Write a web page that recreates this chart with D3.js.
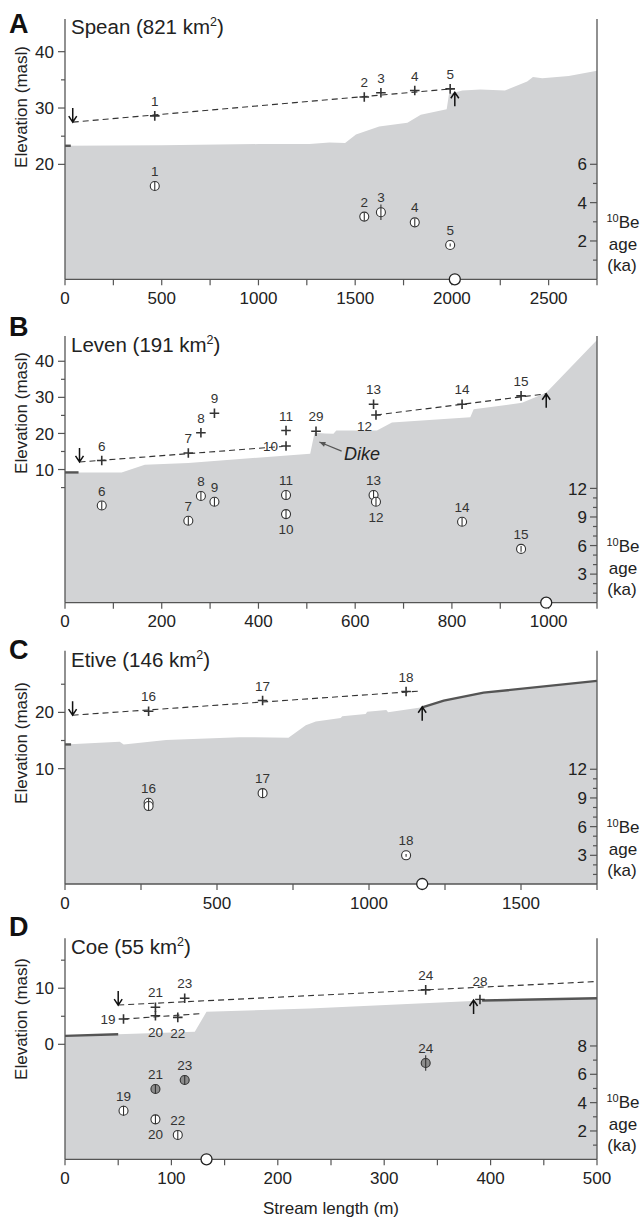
<!DOCTYPE html>
<html><head><meta charset="utf-8">
<script src="https://cdn.jsdelivr.net/npm/d3@7"></script>
<style>body{margin:0;background:#fff} svg{display:block} text{font-family:"Liberation Sans",Arial,Helvetica,sans-serif}</style>
</head><body><svg id="c" width="641" height="1218"></svg>
<script>
// ---------------- DATA ----------------
const panelLetters = ["A","B","C","D"];
const panelRivers = ["Spean","Leven","Etive","Coe"];
const panelAreas = [821,191,146,55];
const xDomains = [[0,2750],[0,1100],[0,1750],[0,500]];
const elevDomains = [[-0.4,45.8],[-26.9,47.0],[-10.5,30.96],[-20.5,18.9]];
const ageDomains = [[0,13.58],[0,28.0],[0,24.4],[0,15.6]];
const xTickSteps = [250,100,250,50];
const xLabelSteps = [500,200,500,100];
const elevTickLabels = [[20,30,40],[10,20,30,40],[10,20],[0,10]];
const elevTickMinor = [[25,35],[5,15,25,35],[15,25],[5,15]];
const ageTickLabels = [[2,4,6],[3,6,9,12],[3,6,9,12],[2,4,6,8]];
const ageTickMinor = [[1,3,5],[1,2,4,5,7,8,10,11],[1,2,4,5,7,8,10,11],[1,3,5,7]];

// channel profiles [stream length m, elevation masl]
const profileSpean = [[0,23.3],[500,23.4],[1000,23.6],[1264,23.6],[1367,23.9],[1448,23.8],[1504,25.3],[1624,26.7],[1770,27.4],[1839,28.8],[1973,29.8],[1985,32.5],[2054,33.1],[2148,33.3],[2274,33.1],[2389,34.7],[2419,35.5],[2467,35.3],[2604,35.7],[2750,36.6]];
const profileLeven = [[0,9.2],[117,9.2],[165,11.3],[255,11.8],[507,14.4],[516,20.2],[538,20.0],[555,19.9],[561,20.8],[645,20.8],[676,23.0],[838,24.5],[845,26.7],[945,28.5],[995,31.3],[1100,45.9]];
const profileEtive = [[0,14.3],[180,14.8],[193,14.3],[333,15.1],[574,15.6],[735,15.5],[792,17.7],[825,18.4],[907,19.0],[912,19.3],[989,19.7],[994,20.1],[1057,20.4],[1063,20.0],[1175,20.9],[1246,22.1],[1377,23.5],[1750,25.6]];
const profileCoe = [[0,1.5],[50,1.8],[122,2.25],[133,5.8],[230,6.4],[383,7.7],[394,7.7],[500,8.2]];

// dark (surveyed) profile segments
const darkSpean = [[[0,23.3],[30,23.3]]];
const darkLeven = [[[0,9.2],[28,9.2]]];
const darkEtive = [[[0,14.3],[20,14.3]],[[1175,20.9],[1246,22.1],[1377,23.5],[1750,25.6]]];
const darkCoe = [[[0,1.5],[50,1.8]],[[392,7.8],[500,8.2]]];

// strath terrace surfaces (dashed)
const dashSpean = [[[40,27.5],[2000,33.4]]];
const dashLeven = [[[30,12.1],[450,16.4]],[[643,25.1],[995,31.0]]];
const dashEtive = [[[25,19.5],[1173,23.8]]];
const dashCoe = [[[50,7.0],[500,11.2]],[[55,4.5],[130,5.5]]];

// sample elevations (crosses): id, stream length, elevation, label position
const crossSpean = [["1",464,28.6,"above"],["2",1547,31.95,"above"],["3",1633,32.7,"above"],["4",1808,33.1,"above"],["5",1991,33.4,"above"]];
const crossLeven = [["6",76,12.5,"above"],["7",255,14.6,"above"],["8",281,20.2,"above"],["9",309,25.6,"above"],["10",457,16.5,"left"],["11",457,20.8,"above"],["29",519,20.6,"above"],["13",638,28.1,"above"],["12",643,25.1,"belowLeft"],["14",821,28.1,"above"],["15",943,30.4,"above"]];
const crossEtive = [["16",275,20.2,"above"],["17",650,22.1,"above"],["18",1122,23.7,"above"]];
const crossCoe = [["19",55,4.5,"left"],["21",85,6.6,"above"],["20",85,5.1,"below"],["22",106,4.8,"below"],["23",112.5,8.2,"above"],["24",339,9.7,"above"],["28",390,8.0,"above"]];

// 10Be ages (circles): id, stream length, age ka, uncertainty ka, label position, filled
const ageSpean = [["1",464,4.87,0.22,"above",0],["2",1547,3.27,0.22,"above",0],["3",1633,3.5,0.4,"above",0],["4",1808,2.97,0.2,"above",0],["5",1991,1.79,0.08,"above",0]];
const ageLeven = [["6",76,10.2,0.45,"above",0],["7",255,8.6,0.45,"above",0],["8",281,11.2,0.45,"above",0],["9",309,10.6,0.45,"above",0],["11",457,11.3,0.45,"above",0],["10",457,9.3,0.45,"below",0],["13",638,11.3,0.45,"above",0],["12",643,10.6,0.45,"below",0],["14",821,8.5,0.45,"above",0],["15",943,5.65,0.3,"above",0]];
const ageEtive = [["16",275,8.5,0.45,"above",0],["",275,8.15,0.45,"none",0],["17",650,9.5,0.45,"above",0],["18",1122,3.0,0.15,"above",0]];
const ageCoe = [["19",55,3.43,0.35,"above",0],["21",85,4.96,0.32,"above",1],["20",85,2.82,0.32,"below",0],["22",106,1.72,0.32,"above",0],["23",112.5,5.6,0.32,"above",1],["24",339,6.8,0.55,"above",1]];

// knickpoint positions (open circle on axis) and arrows
const knickX = [2015,995,1175,133];
const downArrows = [[40,27.5],[30,12.1],[25,19.5],[50,7.0]];
const upArrows = [[2015,32.8],[995,31.0],[1175,21.0],[384,7.9]];
const dikeArrow = [[572,15.1],[526,17.6]];
const dikeLabel = [577,12.6];

// ---------------- LAYOUT ----------------
const W = 641, xL = 65, xR = 597;
const tops = [19,336,650.7,938.3];
const bottoms = [279.3,602.7,884,1159.3];
const titleBase = [33.5,352,666.5,954];
const letterBase = [33,336,659,936];
const yLabelCenter = [107,413,743,1019];

const profiles = [profileSpean,profileLeven,profileEtive,profileCoe];
const darks = [darkSpean,darkLeven,darkEtive,darkCoe];
const dashes = [dashSpean,dashLeven,dashEtive,dashCoe];
const crosses = [crossSpean,crossLeven,crossEtive,crossCoe];
const ages = [ageSpean,ageLeven,ageEtive,ageCoe];

const svg = d3.select("#c");
const FS = 17, LFS = 13.5;
const axisCol = "#555", txt = "#222", gray = "#d2d3d5";

for (let p = 0; p < 4; p++) {
  const top = tops[p], bot = bottoms[p];
  const x = d3.scaleLinear().domain(xDomains[p]).range([xL, xR]);
  const ye = d3.scaleLinear().domain(elevDomains[p]).range([bot, top]);
  const ya = d3.scaleLinear().domain(ageDomains[p]).range([bot, top]);
  const g = svg.append("g");

  // profile fill
  g.append("path").datum(profiles[p])
    .attr("d", d3.area().x(d => x(d[0])).y0(bot).y1(d => ye(d[1])))
    .attr("fill", gray);
  const line = d3.line().x(d => x(d[0])).y(d => ye(d[1]));
  darks[p].forEach(seg => g.append("path").attr("d", line(seg)).attr("fill","none").attr("stroke","#555").attr("stroke-width",2.4));
  dashes[p].forEach(seg => g.append("path").attr("d", line(seg)).attr("fill","none").attr("stroke","#333").attr("stroke-width",1.1).attr("stroke-dasharray","6,4"));

  // axes
  g.append("line").attr("x1",xL).attr("x2",xL).attr("y1",top).attr("y2",bot).attr("stroke",axisCol).attr("stroke-width",1.3);
  g.append("line").attr("x1",xR).attr("x2",xR).attr("y1",top).attr("y2",bot).attr("stroke",axisCol).attr("stroke-width",1.3);
  g.append("line").attr("x1",xL).attr("x2",xR).attr("y1",bot).attr("y2",bot).attr("stroke",axisCol).attr("stroke-width",1.3);
  const xt = d3.range(xDomains[p][0], xDomains[p][1] + 1e-6, xTickSteps[p]);
  xt.forEach(v => {
    g.append("line").attr("x1",x(v)).attr("x2",x(v)).attr("y1",bot).attr("y2",bot+6).attr("stroke",axisCol).attr("stroke-width",1.2);
    if (Math.abs(v % xLabelSteps[p]) < 1e-6)
      g.append("text").attr("x",x(v)).attr("y",bot+24.5).attr("text-anchor","middle").attr("font-size",FS).attr("fill",txt).text(v);
  });
  elevTickLabels[p].forEach(v => {
    g.append("line").attr("x1",xL-7).attr("x2",xL).attr("y1",ye(v)).attr("y2",ye(v)).attr("stroke",axisCol).attr("stroke-width",1.2);
    g.append("text").attr("x",xL-11).attr("y",ye(v)).attr("dy","0.36em").attr("text-anchor","end").attr("font-size",FS).attr("fill",txt).text(v);
  });
  elevTickMinor[p].forEach(v => g.append("line").attr("x1",xL-4).attr("x2",xL).attr("y1",ye(v)).attr("y2",ye(v)).attr("stroke",axisCol).attr("stroke-width",1.2));
  ageTickLabels[p].forEach(v => {
    g.append("line").attr("x1",xR-7).attr("x2",xR).attr("y1",ya(v)).attr("y2",ya(v)).attr("stroke",axisCol).attr("stroke-width",1.2);
    g.append("text").attr("x",xR-10).attr("y",ya(v)).attr("dy","0.36em").attr("text-anchor","end").attr("font-size",FS).attr("fill",txt).text(v);
  });
  ageTickMinor[p].forEach(v => g.append("line").attr("x1",xR-4).attr("x2",xR).attr("y1",ya(v)).attr("y2",ya(v)).attr("stroke",axisCol).attr("stroke-width",1.2));

  // crosses
  crosses[p].forEach(([id, sx, z, pos]) => {
    const cx = x(sx), cy = ye(z);
    g.append("path").attr("d",`M${cx-4.8},${cy}h9.6M${cx},${cy-4.8}v9.6`).attr("stroke","#333").attr("stroke-width",1.6);
    let tx = cx, ty = cy - 10, anchor = "middle";
    if (pos === "left") { tx = cx - 8; ty = cy + 5; anchor = "end"; }
    if (pos === "below") { ty = cy + 21; }
    if (pos === "belowLeft") { tx = cx - 4; ty = cy + 16; anchor = "end"; }
    if (id === "28") ty = cy - 13;
    g.append("text").attr("x",tx).attr("y",ty).attr("text-anchor",anchor).attr("font-size",LFS).attr("fill","#333").text(id);
  });

  // age circles
  ages[p].forEach(([id, sx, a, e, pos, filled]) => {
    const cx = x(sx), cy = ya(a);
    g.append("circle").attr("cx",cx).attr("cy",cy).attr("r",4.5).attr("fill",filled ? "#8c8c8c" : "#fff").attr("stroke","#333").attr("stroke-width",1.1);
    g.append("line").attr("x1",cx).attr("x2",cx).attr("y1",ya(a-e)).attr("y2",ya(a+e)).attr("stroke","#333").attr("stroke-width",1.1);
    if (pos === "none") return;
    const ty = pos === "below" ? cy + 20 : cy - 10;
    g.append("text").attr("x",cx).attr("y",ty).attr("text-anchor","middle").attr("font-size",LFS).attr("fill","#333").text(id);
  });

  // knickpoint open circle
  g.append("circle").attr("cx",x(knickX[p])).attr("cy",bot).attr("r",5.5).attr("fill","#fff").attr("stroke","#222").attr("stroke-width",1.3);

  // arrows
  const arrow = (sx, z, dir) => { // dir=+1 points down
    const tx = x(sx), ty = ye(z);
    const tail = ty - dir*14;
    g.append("path").attr("d",`M${tx},${tail}L${tx},${ty}M${tx-4},${ty-dir*6}L${tx},${ty}L${tx+4},${ty-dir*6}`)
      .attr("fill","none").attr("stroke","#111").attr("stroke-width",1.5);
  };
  arrow(downArrows[p][0], downArrows[p][1], 1);
  arrow(upArrows[p][0], upArrows[p][1], -1);

  if (p === 1) {
    const [a0, a1] = dikeArrow;
    const x0 = x(a0[0]), y0 = ye(a0[1]), x1 = x(a1[0]), y1 = ye(a1[1]);
    const ang = Math.atan2(y1-y0, x1-x0);
    g.append("line").attr("x1",x0).attr("y1",y0).attr("x2",x1).attr("y2",y1).attr("stroke","#555").attr("stroke-width",1.1);
    const hl = 6, hw = 2.5;
    const bx = x1 - hl*Math.cos(ang), by = y1 - hl*Math.sin(ang);
    g.append("path").attr("d",`M${x1},${y1}L${bx - hw*Math.sin(ang)},${by + hw*Math.cos(ang)}L${bx + hw*Math.sin(ang)},${by - hw*Math.cos(ang)}Z`).attr("fill","#555");
    g.append("text").attr("x",x(dikeLabel[0])).attr("y",ye(dikeLabel[1])).attr("font-size",18).attr("font-style","italic").attr("fill",txt).text("Dike");
  }

  // texts
  g.append("text").attr("x",9).attr("y",letterBase[p]).attr("font-size",27).attr("font-weight","bold").attr("fill","#111").text(panelLetters[p]);
  const t = g.append("text").attr("x",71).attr("y",titleBase[p]).attr("font-size",20.5).attr("fill",txt);
  t.append("tspan").text(`${panelRivers[p]} (${panelAreas[p]} km`);
  t.append("tspan").attr("font-size",12.5).attr("dy",-8).text("2");
  t.append("tspan").attr("dy",8).text(")");
  g.append("text").attr("transform",`translate(27,${yLabelCenter[p]}) rotate(-90)`).attr("text-anchor","middle").attr("font-size",FS).attr("fill",txt).text("Elevation (masl)");
  const r1 = g.append("text").attr("x",623).attr("y",bot-51).attr("text-anchor","middle").attr("font-size",FS).attr("fill",txt);
  r1.append("tspan").attr("font-size",11).attr("dy",-6).text("10");
  r1.append("tspan").attr("dy",6).text("Be");
  g.append("text").attr("x",623).attr("y",bot-29).attr("text-anchor","middle").attr("font-size",FS).attr("fill",txt).text("age");
  g.append("text").attr("x",622).attr("y",bot-8).attr("text-anchor","middle").attr("font-size",FS).attr("fill",txt).text("(ka)");
}
svg.append("text").attr("x",331).attr("y",1214).attr("text-anchor","middle").attr("font-size",FS).attr("fill",txt).text("Stream length (m)");
</script></body></html>
